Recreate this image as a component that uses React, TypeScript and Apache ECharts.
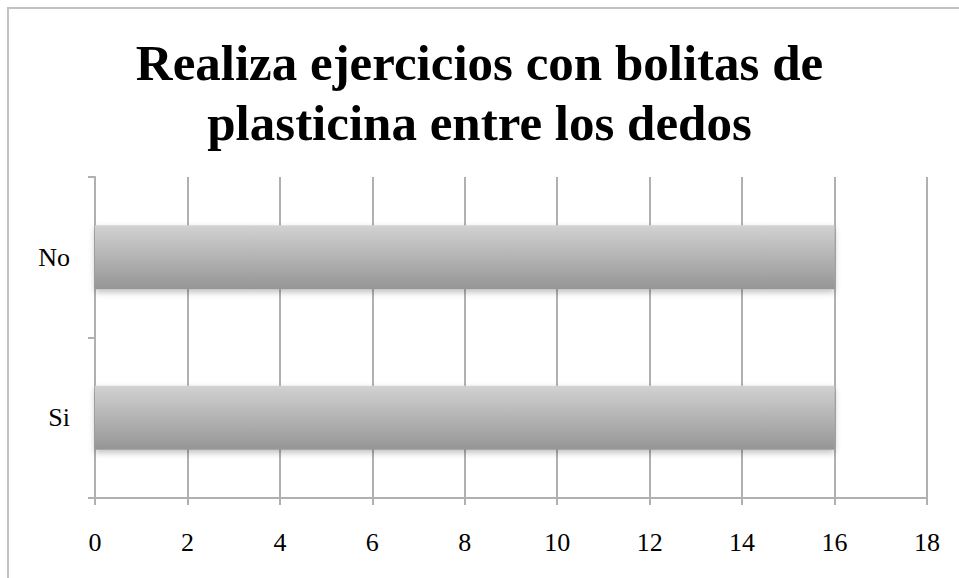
import React, { useEffect, useRef } from "react";
import * as echarts from "echarts";

const titleText = "Realiza ejercicios con bolitas de\nplasticina entre los dedos";
const categories = ["Si", "No"];
const values = [16, 16];
const xMin = 0;
const xMax = 18;
const xInterval = 2;

export default function App() {
  const ref = useRef<HTMLDivElement>(null);
  useEffect(() => {
    if (!ref.current) return;
    const chart = echarts.init(ref.current, null, { renderer: "svg" });
    chart.setOption({
      animation: false,
      backgroundColor: "#ffffff",
      title: {
        text: titleText,
        left: "center",
        top: 28,
        textStyle: {
          fontFamily: "Liberation Serif",
          fontWeight: "bold",
          fontSize: 51,
          lineHeight: 60,
          color: "#000",
        },
      },
      graphic: [
        {
          type: "line",
          shape: { x1: 7, y1: 8, x2: 959, y2: 8 },
          style: { stroke: "#c2c2c2", lineWidth: 2 },
          silent: true,
        },
        {
          type: "line",
          shape: { x1: 8, y1: 7, x2: 8, y2: 578 },
          style: { stroke: "#c2c2c2", lineWidth: 2 },
          silent: true,
        },
      ],
      grid: { left: 95, right: 32, top: 177, bottom: 80, containLabel: false },
      xAxis: {
        type: "value",
        min: xMin,
        max: xMax,
        interval: xInterval,
        axisLine: { show: true, lineStyle: { color: "#b0b0b0", width: 2 } },
        axisTick: { show: true, length: 7, lineStyle: { color: "#b0b0b0", width: 2 } },
        splitLine: { show: true, lineStyle: { color: "#b0b0b0", width: 2 } },
        axisLabel: {
          margin: 31,
          fontFamily: "Liberation Serif",
          fontSize: 26,
          color: "#000",
        },
      },
      yAxis: {
        type: "category",
        data: categories,
        axisLine: { show: true, lineStyle: { color: "#b0b0b0", width: 2 } },
        axisTick: { show: true, length: 7, lineStyle: { color: "#b0b0b0", width: 2 } },
        axisLabel: {
          margin: 25,
          fontFamily: "Liberation Serif",
          fontSize: 26,
          color: "#000",
        },
      },
      series: [
        {
          type: "bar",
          data: values,
          barWidth: "40%",
          itemStyle: {
            color: new echarts.graphic.LinearGradient(0, 0, 0, 1, [
              { offset: 0, color: "#d2d2d2" },
              { offset: 1, color: "#959595" },
            ]),
            shadowColor: "rgba(0,0,0,0.25)",
            shadowBlur: 6,
            shadowOffsetY: 3,
          },
        },
      ],
    });
    return () => chart.dispose();
  }, []);
  return (
    <div
      ref={ref}
      style={{ position: "absolute", left: 0, top: 0, width: 959, height: 578 }}
    />
  );
}
